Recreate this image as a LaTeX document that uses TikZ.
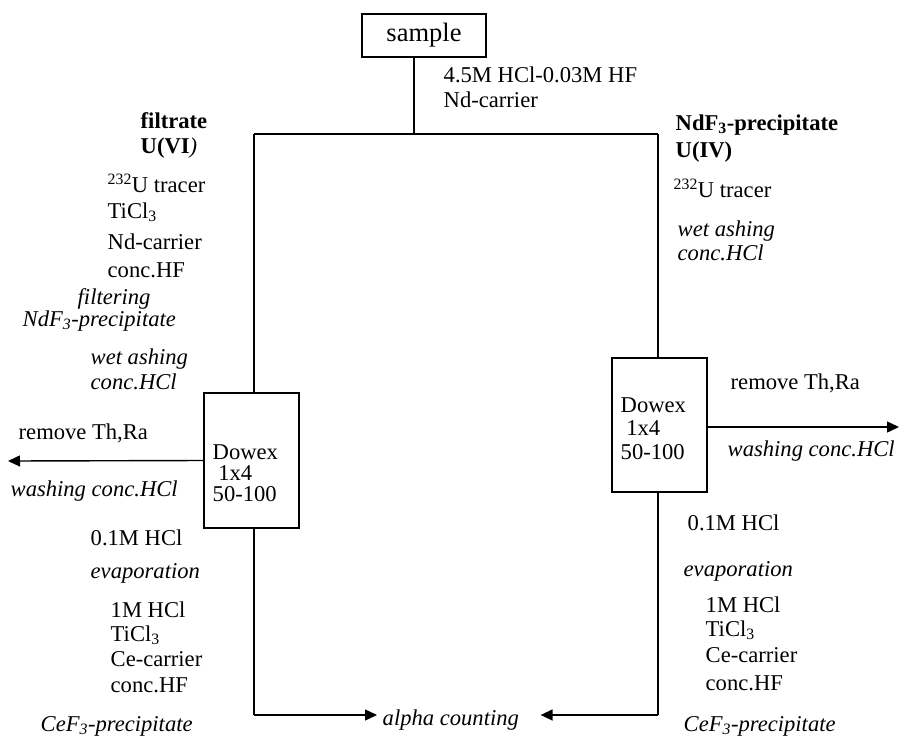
\documentclass[tikz,border=0pt]{standalone}
\usepackage{fontspec}
\setmainfont{Liberation Serif}
\usetikzlibrary{arrows.meta}

\begin{document}
\begin{tikzpicture}[x=1pt,y=-1pt,line width=1.4pt,
	every node/.style={inner sep=0pt,font=\fontsize{22.6}{27}\selectfont},
	txt/.style={anchor=base west},
	column/.style={draw,minimum width=95pt,minimum height=135pt},
	flow/.style={-{Triangle[length=12pt,width=11pt]}}]
						\useasboundingbox (0,0) rectangle (902,737);
						% sample and split
						\path (424,35.5) node[draw,minimum width=124pt,minimum height=43pt,font=\fontsize{26.5}{30}\selectfont] (smp) {sample};
						\path (414,134) coordinate (split);
						\path (254,134) coordinate (lc);
						\path (658,134) coordinate (rc);
						\draw (smp.south -| split) -- (split);
						\draw (lc) -- (rc);
						\path (443,82) node[txt] (v0) {4.5M HCl-0.03M HF};
						\path (443,107) node[txt] (v1) {Nd-carrier};
						% left branch
						\path (140,128) node[txt] (v2) {\textbf{filtrate}};
						\path (140,153) node[txt] (v3) {\textbf{U(VI}\textit{)}};
						\path (107,192) node[txt] (v4) {\textsuperscript{232}U tracer};
						\path (107,218) node[txt] (v5) {TiCl\textsubscript{3}};
						\path (107,249) node[txt] (v6) {Nd-carrier};
						\path (107,277) node[txt] (v7) {conc.HF};
						\path (77,304) node[txt] (v8) {\textit{filtering}};
						\path (22,326) node[txt] (v9) {\textit{NdF\textsubscript{3}-precipitate}};
						\path (90,364) node[txt] (v10) {\textit{wet ashing}};
						\path (90,389) node[txt] (v11) {\textit{conc.HCl}};
						\path (251.5,460.5) node[column] (dwl) {};
						\path (212,459) node[txt] (v12) {Dowex};
						\path (212,480) node[txt] (v13) {\ 1x4};
						\path (212,501) node[txt] (v14) {50-100};
						\path (8,461) coordinate (outl);
						\path (18,439) node[txt] (v15) {remove Th,Ra};
						\path (10,496) node[txt] (v16) {\textit{washing conc.HCl}};
						\path (90,545) node[txt] (v17) {0.1M HCl};
						\path (90,578) node[txt] (v18) {\textit{evaporation}};
						\path (110,617) node[txt] (v19) {1M HCl};
						\path (110,641) node[txt] (v20) {TiCl\textsubscript{3}};
						\path (110,666) node[txt] (v21) {Ce-carrier};
						\path (110,692) node[txt] (v22) {conc.HF};
						\path (40,731) node[txt] (v23) {\textit{CeF\textsubscript{3}-precipitate}};
						\path (254,715) coordinate (lb);
						% right branch
						\path (675,130) node[txt] (v24) {\textbf{NdF\textsubscript{3}-precipitate}};
						\path (675,157) node[txt] (v25) {\textbf{U(IV)}};
						\path (673,197) node[txt] (v26) {\textsuperscript{232}U tracer};
						\path (677,236) node[txt] (v27) {\textit{wet ashing}};
						\path (677,260) node[txt] (v28) {\textit{conc.HCl}};
						\path (659.5,425) node[column,minimum height=134pt] (dwr) {};
						\path (620,412) node[txt] (v29) {Dowex};
						\path (620,435) node[txt] (v30) {\ 1x4};
						\path (620,459) node[txt] (v31) {50-100};
						\path (899,427) coordinate (outr);
						\path (730,389) node[txt] (v32) {remove Th,Ra};
						\path (727,456) node[txt] (v33) {\textit{washing conc.HCl}};
						\path (687,530) node[txt] (v34) {0.1M HCl};
						\path (683,576) node[txt] (v35) {\textit{evaporation}};
						\path (705,612) node[txt] (v36) {1M HCl};
						\path (705,636) node[txt] (v37) {TiCl\textsubscript{3}};
						\path (705,662) node[txt] (v38) {Ce-carrier};
						\path (705,690) node[txt] (v39) {conc.HF};
						\path (683,731) node[txt] (v40) {\textit{CeF\textsubscript{3}-precipitate}};
						\path (658,715) coordinate (rb);
						% counting
						\path (377,720) node[anchor=west,inner xsep=5pt] (cnt) {\textit{alpha counting}};
						\draw (lc) -- (lc |- dwl.north);
						\draw (lc |- dwl.south) -- (lb);
						\draw[flow] (lb) -- (lb -| cnt.west);
						\draw[flow] (dwl.west) -- (outl);
						\draw (rc) -- (rc |- dwr.north);
						\draw (rc |- dwr.south) -- (rb);
						\draw[flow,shorten >=16pt] (rb) -- (rb -| cnt.east);
						\draw[flow] (outr -| dwr.east) -- (outr);
					\end{tikzpicture}
\end{document}
